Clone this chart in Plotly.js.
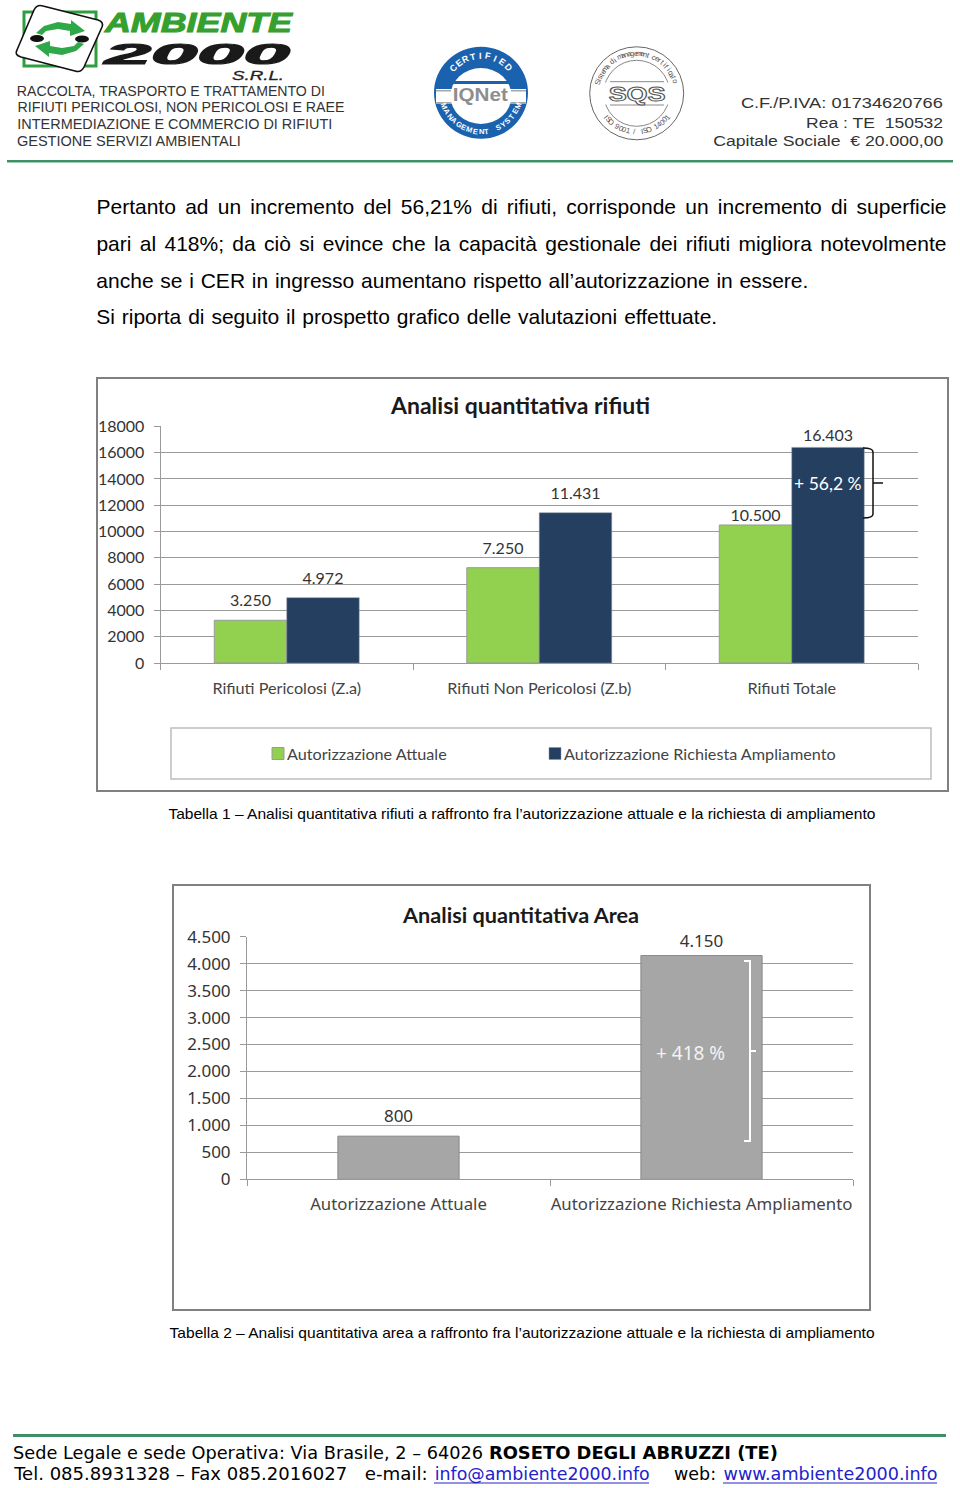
<!DOCTYPE html>
<html><head><meta charset="utf-8">
<script src="https://cdn.plot.ly/plotly-3.0.1.min.js"></script>
<style>html,body{margin:0;padding:0;background:#fff}#c{width:960px;height:1488px}</style>
</head><body><div id="c"></div>
<script>
// ---- chart data ----
const wasteCategories = ["Rifiuti Pericolosi (Z.a)", "Rifiuti Non Pericolosi (Z.b)", "Rifiuti Totale"];
const wasteCurrent = [3250, 7250, 10500];
const wasteRequested = [4972, 11431, 16403];
const wasteCurrentLabels = ["3.250", "7.250", "10.500"];
const wasteRequestedLabels = ["4.972", "11.431", "16.403"];
const wasteTicks = [0, 2000, 4000, 6000, 8000, 10000, 12000, 14000, 16000, 18000];
const seriesNames = ["Autorizzazione Attuale", "Autorizzazione Richiesta Ampliamento"];
const areaCategories = ["Autorizzazione Attuale", "Autorizzazione Richiesta Ampliamento"];
const areaValues = [800, 4150];
const areaLabels = ["800", "4.150"];
const areaTicks = [0, 500, 1000, 1500, 2000, 2500, 3000, 3500, 4000, 4500];
const areaTickLabels = ["0", "500", "1.000", "1.500", "2.000", "2.500", "3.000", "3.500", "4.000", "4.500"];

const W = 960, H = 1488;
const px = x => x / W, py = y => 1 - y / H;
const BODY = "Liberation Sans", CH = "Lato", HD = "Noto Sans", FT = "DejaVu Sans";
const GREEN = "#92D050", NAVY = "#253F60", RULE = "#3F8F66";

const annotations = [], fits = [];
function T(text, x0, y, size, o = {}) {
  const a = {text, xref: "paper", yref: "paper", y: py(y), yanchor: "middle", showarrow: false,
    font: {family: o.font || BODY, size, color: o.color || "#000"}, textangle: o.angle || 0};
  if (o.w) { a.x = px(x0 + o.w / 2); a.xanchor = "center"; }
  else if (o.right) { a.x = px(x0); a.xanchor = "right"; }
  else if (o.center) { a.x = px(x0); a.xanchor = "center"; }
  else { a.x = px(x0); a.xanchor = "left"; }
  annotations.push(a);
  if (o.w) fits.push({i: annotations.length - 1, w: o.w, mode: o.mode || "fit", outline: o.outline, stroke: o.stroke});
}
function arc(text, cx, cy, r, from, to, size, color, bottom, bold) {
  const n = text.length;
  [...text].forEach((ch, k) => {
    if (ch === " ") return;
    const d = from + (to - from) * k / (n - 1);
    const phi = (bottom ? 180 - d : d) * Math.PI / 180;
    T(bold ? "<b>" + ch + "</b>" : ch, cx + r * Math.sin(phi), cy - r * Math.cos(phi), size,
      {color, center: true, angle: bottom ? -d : d});
  });
}
const shapes = [];
const P = pts => pts.map((p, i) => (i ? "L" : "M") + px(p[0]) + "," + py(p[1])).join(" ");
function path(d, o = {}) {
  shapes.push({type: "path", xref: "paper", yref: "paper", path: d,
    fillcolor: o.fill || "rgba(0,0,0,0)", line: {color: o.color || "rgba(0,0,0,0)", width: o.width || 0}});
}
function rect(x0, y0, x1, y1, o = {}) {
  shapes.push({type: "rect", xref: "paper", yref: "paper", x0: px(x0), x1: px(x1), y0: py(y0), y1: py(y1),
    fillcolor: o.fill || "rgba(0,0,0,0)", line: {color: o.color || "rgba(0,0,0,0)", width: o.width || 0}});
}
function oval(cx, cy, rx, ry, o = {}) {
  shapes.push({type: "circle", xref: "paper", yref: "paper", x0: px(cx - rx), x1: px(cx + rx), y0: py(cy - ry), y1: py(cy + ry),
    fillcolor: o.fill || "rgba(0,0,0,0)", line: {color: o.color || "rgba(0,0,0,0)", width: o.width || 0}});
}
function hline(x0, x1, y, color, width) {
  shapes.push({type: "line", xref: "paper", yref: "paper", x0: px(x0), x1: px(x1), y0: py(y), y1: py(y), line: {color, width}});
}
const Q = (x, y, x2, y2) => `Q${px(x)},${py(y)} ${px(x2)},${py(y2)}`;
const L = (x, y) => `L${px(x)},${py(y)}`;
const M = (x, y) => `M${px(x)},${py(y)}`;

// ---- header: logo ----
rect(24, 12, 96, 66, {color: "#2E9E3E", width: 3});
path(M(43, 6) + L(98, 20) + Q(104, 22, 102, 27) + L(84, 67) + Q(81, 73, 75, 71) + L(21, 57) + Q(14, 55, 17, 50) + L(34, 10) + Q(37, 4, 43, 6) + " Z",
  {fill: "#fff", color: "#111", width: 1.6});
path(P([[36, 33], [44, 26], [58, 22], [71, 24], [71, 20], [85, 31], [70, 36], [70, 31], [58, 29], [46, 31], [42, 35]]) + " Z", {fill: "#2FA84A"});
path(P([[84, 44], [76, 51], [62, 55], [49, 53], [49, 57], [35, 46], [50, 41], [50, 46], [62, 48], [74, 46], [78, 42]]) + " Z", {fill: "#2FA84A"});
oval(37, 38.5, 7, 3.5, {fill: "#111"});
oval(82, 39, 7, 3.5, {fill: "#111"});
T("<b><i>AMBIENTE</i></b>", 105, 23, 27, {color: "#35A02E", w: 187, stroke: 1});
T("<b><i>2000</i></b>", 104, 54.5, 29, {color: "#1a1a1a", w: 185, stroke: 1.2});
T("<i>S.R.L.</i>", 232, 76, 13, {color: "#222", w: 52, stroke: 0.3});
[["RACCOLTA, TRASPORTO E TRATTAMENTO DI", 91, 308], ["RIFIUTI PERICOLOSI, NON PERICOLOSI E RAEE", 107, 327],
 ["INTERMEDIAZIONE E COMMERCIO DI RIFIUTI", 124, 315], ["GESTIONE SERVIZI AMBIENTALI", 141, 224]]
  .forEach(l => T(l[0], 17, l[1], 14, {color: "#333", font: BODY, w: l[2]}));

// ---- header: IQNet badge ----
oval(481, 92.7, 47, 46, {fill: "#1B62AE"});
rect(436, 89, 526, 103.5, {fill: "#fff"});
rect(436, 90, 526, 91.5, {fill: "#a8a8a8"});
rect(436, 102, 526, 103.5, {fill: "#a8a8a8"});
oval(481, 96, 30.5, 28, {fill: "#fff"});
rect(451, 81, 511, 84, {fill: "#1B62AE"});
T("<b>IQNet</b>", 453, 94, 19, {color: "#8e8e8e", w: 55});
arc("CERTIFIED", 481, 92.7, 37, -48, 47, 9, "#fff", false, true);
arc("MANAGEMENT SYSTEM", 481, 92.7, 39, -70, 70, 7.5, "#fff", true, true);

// ---- header: SQS badge ----
oval(636.7, 93.3, 47, 46.5, {color: "#666", width: 1, fill: "#fff"});
oval(636.7, 93.3, 33, 33, {color: "#888", width: 1});
rect(600, 82.5, 672, 104.5, {fill: "#fff"});
hline(610, 664, 81.7, "#888", 1);
hline(610, 664, 105, "#888", 1);
arc("Sistema di management certificato", 636.7, 93.3, 40, -75, 72, 7.5, "#555");
arc("ISO 9001 / ISO 14001", 636.7, 93.3, 38.5, -52, 52, 7.5, "#555", true);
T("<b>SQS</b>", 608, 93.5, 20, {color: "#555", w: 57, outline: true});

T("C.F./P.IVA: 01734620766", 741, 103, 15.5, {color: "#333", font: BODY, w: 202});
T("Rea : TE  150532", 806, 122, 15.5, {color: "#333", font: BODY, w: 137});
T("Capitale Sociale  € 20.000,00", 713, 141, 15.5, {color: "#333", font: BODY, w: 230});
rect(7, 160, 953, 162.5, {fill: RULE});

// ---- body text ----
T("Pertanto ad un incremento del 56,21% di rifiuti, corrisponde un incremento di superficie", 96, 206.4, 21, {w: 850, mode: "words"});
T("pari al 418%; da ciò si evince che la capacità gestionale dei rifiuti migliora notevolmente", 96, 243.6, 21, {w: 850, mode: "words"});
T("anche se i CER in ingresso aumentano rispetto all’autorizzazione in essere.", 96, 280.4, 21, {w: 712, mode: "words"});
T("Si riporta di seguito il prospetto grafico delle valutazioni effettuate.", 96, 316.6, 21, {w: 621, mode: "words"});

// ---- chart frames ----
rect(97, 378, 948, 791, {color: "#808080", width: 2});
rect(171, 728, 931, 779, {color: "#bdbdbd", width: 1.5});
rect(173, 885, 870, 1310, {color: "#808080", width: 2});

T("<b>Analisi quantitativa rifiuti</b>", 519.5, 405, 23, {color: "#1a1a1a", font: CH, center: true});
T("<b>Analisi quantitativa Area</b>", 520, 915, 21.7, {color: "#1a1a1a", font: CH, center: true});

// bracket, first chart
path(M(863, 448) + Q(873, 448, 873, 452) + L(873, 514) + Q(873, 518, 863, 518), {color: "#111", width: 1.5});
hline(873, 883, 483, "#111", 1.5);
T("+ 56,2 %", 828, 483, 17.5, {color: "#fff", font: CH, center: true});
// bracket, second chart
path(M(744, 961) + L(750, 961) + L(750, 1141) + L(744, 1141), {color: "#fff", width: 2});
hline(750, 756, 1051, "#fff", 2);
T("+ 418 %", 690.5, 1053, 19, {color: "#f2f2f2", font: HD, center: true});

// ---- captions ----
T("Tabella 1 – Analisi quantitativa rifiuti a raffronto fra l’autorizzazione attuale e la richiesta di ampliamento", 168, 813, 15, {w: 707});
T("Tabella 2 – Analisi quantitativa area a raffronto fra l’autorizzazione attuale e la richiesta di ampliamento", 169, 1332, 15, {w: 705});

// ---- footer ----
rect(13, 1434, 946, 1437, {fill: RULE});
const LINK = "#2222CC";
T("Sede Legale e sede Operativa: Via Brasile, 2 – 64026", 13, 1453, 17.5, {font: FT, w: 470});
T("<b>ROSETO DEGLI ABRUZZI (TE)</b>", 489, 1453, 17, {font: FT, w: 289});
T("Tel. 085.8931328 – Fax 085.2016027", 13, 1474, 17.5, {font: FT, w: 333});
T("e-mail:", 364, 1474, 17.5, {font: FT, w: 63});
T("info@ambiente2000.info", 434, 1474, 17.5, {font: FT, color: LINK, w: 215});
hline(434, 649, 1483, LINK, 1);
T("web:", 674, 1474, 17.5, {font: FT, w: 42});
T("www.ambiente2000.info", 723, 1474, 17.5, {font: FT, color: LINK, w: 214});
hline(723, 937, 1483, LINK, 1);

// ---- traces ----
const barText = {family: CH, size: 16, color: "#333"};
const traces = [
  {type: "bar", name: seriesNames[0], x: wasteCategories, y: wasteCurrent, text: wasteCurrentLabels, textposition: "outside",
   textfont: barText, cliponaxis: false, marker: {color: GREEN, line: {color: "#9a9a9a", width: 1}}, hoverinfo: "skip"},
  {type: "bar", name: seriesNames[1], x: wasteCategories, y: wasteRequested, text: wasteRequestedLabels, textposition: "outside",
   textfont: barText, cliponaxis: false, marker: {color: NAVY, line: {color: "#8a96a6", width: 0.5}}, hoverinfo: "skip"},
  {type: "bar", showlegend: false, xaxis: "x2", yaxis: "y2", x: areaCategories, y: areaValues, text: areaLabels, textposition: "outside",
   textfont: {family: HD, size: 17, color: "#333"}, cliponaxis: false, width: 0.4, marker: {color: "#A6A6A6", line: {color: "#888", width: 1}}, hoverinfo: "skip"}
];
const ax = {showline: true, linecolor: "#9a9a9a", linewidth: 1, ticks: "outside", tickcolor: "#9a9a9a", ticklen: 6, tickwidth: 1, fixedrange: true, automargin: false};
const layout = {
  width: W, height: H, margin: {l: 0, r: 0, t: 0, b: 0}, paper_bgcolor: "#fff", plot_bgcolor: "rgba(0,0,0,0)",
  barmode: "group", bargap: 0.426, bargroupgap: 0, shapes, annotations,
  showlegend: true,
  legend: {orientation: "h", x: px(247), xanchor: "left", y: py(754), yanchor: "middle", bgcolor: "rgba(0,0,0,0)",
           font: {family: CH, size: 16.2, color: "#444"}, entrywidth: 275, entrywidthmode: "pixels", itemclick: false, itemdoubleclick: false},
  xaxis: {...ax, domain: [px(160.5), px(918)], type: "category", tickson: "boundaries", ticklabelstandoff: 11, tickangle: 0,
          tickfont: {family: CH, size: 16.2, color: "#444"}, anchor: "y"},
  yaxis: {...ax, domain: [py(663), py(426.4)], range: [0, 18000], tickvals: wasteTicks, ticktext: wasteTicks.map(String),
          showgrid: true, gridcolor: "#9a9a9a", gridwidth: 1, zeroline: false, ticklabelstandoff: 6, tickfont: {family: CH, size: 16, color: "#333"}, anchor: "x"},
  xaxis2: {...ax, domain: [px(247), px(853)], type: "category", tickson: "boundaries", ticklabelstandoff: 10, tickangle: 0,
           tickfont: {family: HD, size: 16.8, color: "#444"}, anchor: "y2"},
  yaxis2: {...ax, domain: [py(1179.3), py(936.7)], range: [0, 4500], tickvals: areaTicks, ticktext: areaTickLabels,
           showgrid: true, gridcolor: "#9a9a9a", gridwidth: 1, zeroline: false, ticklabelstandoff: 6, tickfont: {family: HD, size: 17, color: "#333"}, anchor: "x2"}
};
// extra gap above each bar label, in reading order of the three bar traces
const labelLift = [8, 8, -2, 8, 8, 0, 6, 1];
Plotly.newPlot("c", traces, layout, {displayModeBar: false, staticPlot: true}).then(gd => {
  fits.forEach(f => {
    const el = gd.querySelector(`.annotation[data-index="${f.i}"] text`);
    if (!el) return;
    if (f.mode === "words") {
      const n = (el.textContent.match(/ /g) || []).length;
      el.style.wordSpacing = ((f.w - el.getComputedTextLength()) / n) + "px";
    } else {
      el.setAttribute("textLength", f.w);
      el.setAttribute("lengthAdjust", "spacingAndGlyphs");
    }
    if (f.outline) { el.style.fill = "#fff"; el.style.stroke = "#555"; el.style.strokeWidth = "1px"; }
    if (f.stroke) { el.style.stroke = el.style.fill; el.style.strokeWidth = f.stroke + "px"; }
  });
  gd.querySelectorAll(".legend .traces .legendpoints").forEach(g => g.setAttribute("transform", "translate(11,0)"));
  // second legend entry sits 277px after the first one
  const entries = gd.querySelectorAll(".legend .traces");
  if (entries.length === 2) {
    const m = /translate\(([-\d.]+)[ ,]+([-\d.]+)\)/.exec(entries[0].getAttribute("transform") || "");
    if (m) entries[1].setAttribute("transform", `translate(${+m[1] + 277},${m[2]})`);
  }
  gd.querySelectorAll(".barlayer .point text").forEach((t, i) => {
    const lift = labelLift[i] || 0;
    t.setAttribute("transform", `translate(0,${-lift}) ` + (t.getAttribute("transform") || ""));
  });
});
</script></body></html>
